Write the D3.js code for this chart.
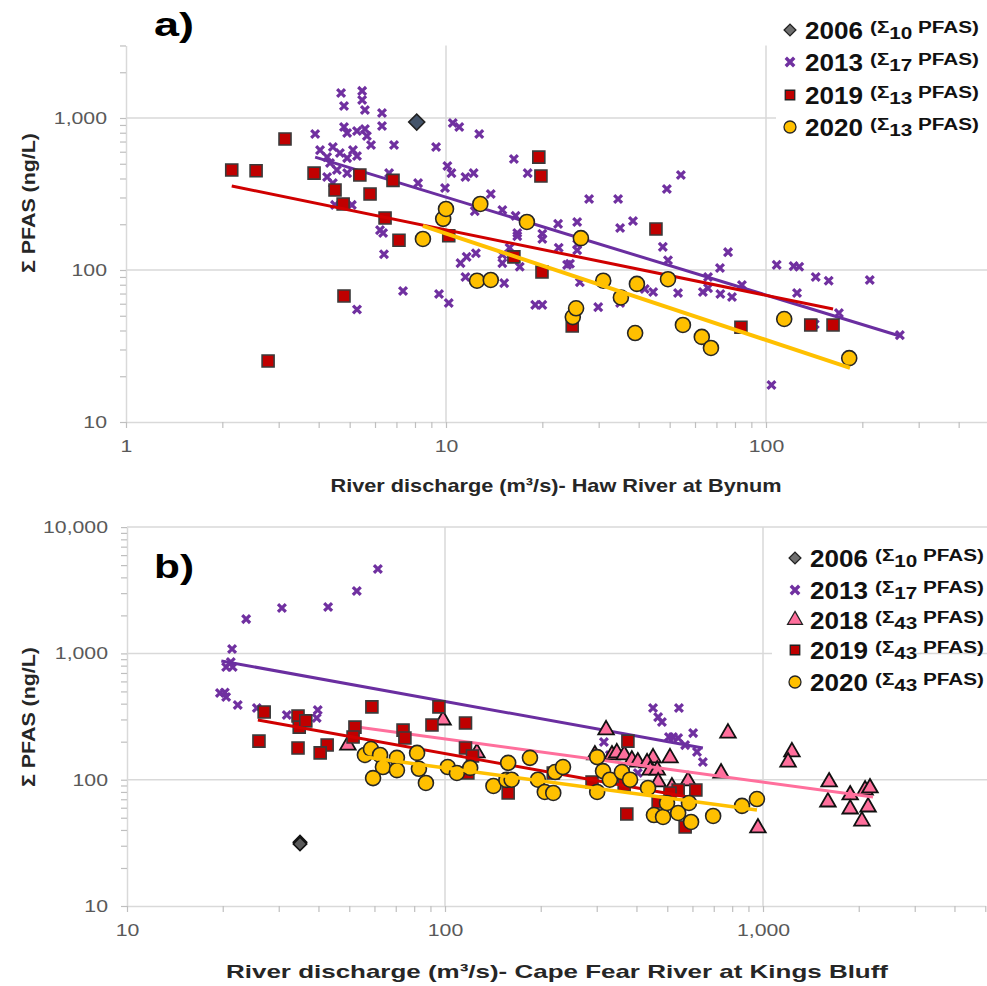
<!DOCTYPE html>
<html>
<head>
<meta charset="utf-8">
<script src="https://cdn.jsdelivr.net/npm/d3@7"></script>
<style>
  body { margin: 0; background: #fff; }
  text { font-family: Arial, "Liberation Sans", sans-serif; }
</style>
</head>
<body>
<script>
const svgWidth = 987
const svgHeight = 986

// ---- panel a) Haw River at Bynum : [discharge m3/s, sum PFAS ng/L]
const a2006 = [[8.1, 940]]
const a2013 = [
  [4.70,1459],[4.80,1200],[5.47,1507],[5.47,1313],[5.58,1129],[6.31,1078],[6.31,886],[3.90,785],
  [4.80,873],[4.91,796],[5.27,821],[5.58,847],[5.66,762],[5.83,664],[6.88,664],[9.31,644],
  [10.1,483],[4.04,615],[4.25,553],[4.43,644],[4.66,589],[5.12,615],[4.91,545],[5.27,562],
  [4.34,506],[4.56,455],[4.25,409],[4.91,434],[4.43,373],[6.64,434],[8.18,373],[9.93,346],
  [4.50,268],[5.08,268],[6.22,183],[10.5,927],[11.0,873],[12.7,785],[16.3,537],[18.0,434],
  [10.4,434],[11.5,409],[12.2,434],[13.8,316],[12.3,244],[15.0,248],[16.5,227],[28.0,293],
  [34.5,293],[49.0,341],[54.2,422],[22.4,201],[25.7,207],[38.4,210],[35.0,189],[16.7,175],
  [16.7,167],[15.8,140],[15.0,126],[15.0,111],[17.0,105],[15.2,82],[11.1,111],[11.6,122],
  [12.4,129],[11.5,90],[9.51,69.5],[10.2,60.7],[7.34,72.8],[20.0,173],[20.0,160],[22.5,140],
  [25.7,148],[25.7,135],[23.9,108],[24.4,110],[26.2,83],[19.0,59],[20.0,59],[29.9,57],
  [35.0,60.7],[47.6,142],[49.4,116],[44.4,71.6],[53.1,70.6],[41.8,75],[63.5,71.6],[65.9,76],
  [71.8,103],[76.1,131],[72,69.5],[78.3,66.4],[84.1,79.6],[6.36,175],[6.40,127],[5.27,55],
  [65.9,90],[108,108],[122,106],[127,105],[143,90],[157,85],[211,86],[125,70.6],
  [142,44],[169,52],[262,37.3],[104,17.5]
]
const a2019 = [
  [2.14,455],[2.55,450],[2.78,25.2],[3.14,728],[3.87,434],[4.5,336],[4.77,272],[4.8,67.5],
  [5.38,422],[5.79,316],[6.45,220],[6.83,389],[7.13,157],[10.2,168],[16.3,122],[19.5,553],
  [19.8,415],[19.95,97],[24.8,42.8],[45.3,186],[83.5,42],[138,43.5],[162,43.5]
]
const a2020 = [
  [8.47,160],[9.8,217],[10,252],[12.5,85],[12.8,272],[13.8,86],[17.9,207],[24.9,49],
  [25.5,56],[26.4,162],[31,85],[35.2,66],[39,38.5],[39.5,81],[49.4,87],[55,43.5],
  [63,36.3],[67.3,30.7],[114,47.6],[182,26.3]
]
const aTrend2013 = [[3.9, 553], [262, 36.8]]
const aTrend2019 = [[2.14, 357], [162, 55.4]]
const aTrend2020 = [[8.47, 195], [183, 22.7]]

// ---- panel b) Cape Fear River at Kings Bluff
const b2006 = [[35, 32], [35, 31]]
const b2013 = [
  [61.5,4660],[52.8,3120],[42.9,2330],[30.7,2290],[23.7,1870],[21.4,1084],[20.5,780],[21.5,780],
  [21.2,855],[19.6,486],[20.5,452],[20.3,490],[22.3,390],[25.6,370],[31.8,325],[39.8,356],
  [39.5,308],[451,370],[468,313],[481,286],[544,370],[521,218],[506,218],[603,234],
  [316,199],[541,214],[569,188],[620,166],[647,138],[404,113],[330,157]
]
const b2018 = [
  [98.6,297],[49.5,188],[321,248],[776,234],[1233,166],[1199,138],[1614,96],[1600,66.6],
  [1880,75.7],[1880,58.6],[2094,82.8],[2170,86],[2140,60.8],[2047,47],[964,41.5],[738,113],
  [581,97.7],[510,149],[451,149],[296,157],[335,157],[347,163],[366,157],[387,143],
  [404,138],[432,136],[442,119],[465,119],[468,96],[517,87.5],[126,163]
]
const b2019 = [
  [27.0,344],[26.0,202],[34.5,319],[34.8,261],[36.5,292],[58.9,377],[52.1,261],[51.4,218],
  [73.8,247],[74.8,214],[91.0,271],[95.7,377],[34.5,178],[42.6,188],[40.5,163],[116,281],
  [116,178],[122,154],[118,113],[158,78.5],[376,202],[363,111],[366,90.8],[373,53.5],
  [615,82.8],[541,82.8],[510,78.5],[468,66.6],[569,42.2],[290,96],[219,113]
]
const b2020 = [
  [56.0,157],[58.5,175],[62.5,157],[63.8,126],[70.6,149],[70.6,119],[59.4,103],[81.7,163],
  [82.8,122],[87.1,94.2],[102,126],[109,113],[120,124],[142,89.2],[158,136],[156,99.6],
  [162,100],[185,149],[196,100],[206,80],[219,78.5],[222,115],[235,126],[301,151],
  [301,80],[314,117],[330,100],[435,86],[454,52.5],[485,50.7],[499,65.4],[541,54.5],
  [585,65.4],[594,46.3],[697,51.6],[859,62],[957,70.3],[360,115],[382,100]
]
const bTrend2013 = [[19.8, 871], [647, 178]]
const bTrend2018 = [[50.2, 266], [2218, 73]]
const bTrend2019 = [[25.8, 297], [603, 71.6]]
const bTrend2020 = [[56, 151], [957, 57.5]]

const svg = d3.select("body").append("svg")
    .attr("width", svgWidth)
    .attr("height", svgHeight)

const purple = "#7030a0"
const red = "#c00000"
const gold = "#ffc000"
const pink = "#ff6f9c"

// all 1..9 x 10^n values inside [lo, hi]
function logTicks(lo, hi) {
  const out = []
  for (let p = Math.floor(Math.log10(lo)); p <= Math.ceil(Math.log10(hi)); p++) {
    for (let k = 1; k < 10; k++) {
      const v = k * Math.pow(10, p)
      if (v >= lo * 0.999 && v <= hi * 1.001) out.push(v)
    }
  }
  return out
}
const isMajor = v => Math.abs(Math.log10(v) - Math.round(Math.log10(v))) < 1e-9
const fmt = d3.format(",")

// the source figure's text is a bit wider than plain Arial
function stretch(sel, k) {
  sel.each(function () {
    const w = this.getComputedTextLength()
    if (w > 0) d3.select(this).attr("textLength", w * k).attr("lengthAdjust", "spacingAndGlyphs")
  })
}
function fitTo(sel, w) {
  sel.attr("textLength", w).attr("lengthAdjust", "spacingAndGlyphs")
}

function drawPanel(o) {
  const g = svg.append("g")
  const x = d3.scaleLog().domain(o.xDomain).range(o.xRange)
  const y = d3.scaleLog().domain(o.yDomain).range(o.yRange)
  const xTicks = logTicks(o.xDomain[0], o.xDomain[1])
  const yTicks = logTicks(o.yDomain[0], o.yDomain[1])

  // gridlines
  g.selectAll(".hgrid").data(yTicks.filter(v => isMajor(v) && v > o.yDomain[0]))
    .enter().append("line")
    .attr("x1", o.xRange[0]).attr("x2", svgWidth)
    .attr("y1", d => y(d)).attr("y2", d => y(d))
    .attr("stroke", "#d9d9d9").attr("stroke-width", 1.5)
  g.selectAll(".vgrid").data(xTicks.filter(v => isMajor(v) && v > o.xDomain[0]))
    .enter().append("line")
    .attr("x1", d => x(d)).attr("x2", d => x(d))
    .attr("y1", o.yRange[0]).attr("y2", o.yRange[1])
    .attr("stroke", "#d9d9d9").attr("stroke-width", 1.5)

  const yAxis = g.append("g")
    .attr("transform", `translate(${o.xRange[0]},0)`)
    .call(d3.axisLeft(y).tickValues(yTicks).tickSize(6).tickSizeOuter(0).tickPadding(13)
      .tickFormat(d => isMajor(d) ? fmt(d) : ""))
  const xAxis = g.append("g")
    .attr("transform", `translate(0,${o.yRange[0]})`)
    .call(d3.axisBottom(x).tickValues(xTicks).tickSize(6).tickSizeOuter(0).tickPadding(12)
      .tickFormat(d => isMajor(d) ? fmt(d) : ""))
  for (const ax of [yAxis, xAxis]) {
    ax.select(".domain").attr("stroke", "#d9d9d9").attr("stroke-width", 1.5)
    ax.selectAll(".tick line").attr("stroke", "#bfbfbf").attr("stroke-width", 1.2)
    ax.selectAll(".tick text").attr("fill", "#595959")
      .style("font-size", "17px").style("font-family", "Arial, 'Liberation Sans', sans-serif")
    stretch(ax.selectAll(".tick text"), 1.25)
  }

  // legend background
  g.append("rect")
    .attr("x", o.legendBox[0]).attr("y", o.legendBox[1])
    .attr("width", o.legendBox[2]).attr("height", o.legendBox[3])
    .attr("fill", "#fff")

  const line = d3.line().x(d => x(d[0])).y(d => y(d[1]))

  for (const s of o.series) {
    const pts = g.append("g")
    if (s.kind === "cross") {
      pts.selectAll("path").data(s.data).enter().append("path")
        .attr("d", d3.symbol(d3.symbolTimes, 42))
        .attr("transform", d => `translate(${x(d[0])},${y(d[1])})`)
        .attr("fill", "none").attr("stroke", s.color).attr("stroke-width", 3.2)
    } else if (s.kind === "circle") {
      pts.selectAll("circle").data(s.data).enter().append("circle")
        .attr("cx", d => x(d[0])).attr("cy", d => y(d[1])).attr("r", 7.5)
        .attr("fill", s.color).attr("stroke", "#262626").attr("stroke-width", 1.6)
    } else {
      const sym = s.kind === "triangle" ? d3.symbolTriangle : d3.symbolSquare
      pts.selectAll("path").data(s.data).enter().append("path")
        .attr("d", d3.symbol(sym, s.size))
        .attr("transform", d => `translate(${x(d[0])},${y(d[1])})` + (s.kind === "diamond" ? " rotate(45)" : ""))
        .attr("fill", s.color).attr("stroke", s.stroke).attr("stroke-width", s.kind === "triangle" ? 1.8 : 1.6)
    }
    if (s.trend) {
      g.append("path").datum(s.trend)
        .attr("d", line).attr("fill", "none")
        .attr("stroke", s.lineColor || s.color).attr("stroke-width", s.lineWidth || 3)
    }
  }

  // legend entries
  o.series.forEach((s, i) => {
    const cy = o.legendY[i]
    const lx = o.legendX
    if (s.kind === "cross") {
      g.append("path").attr("d", d3.symbol(d3.symbolTimes, 48))
        .attr("transform", `translate(${lx},${cy})`)
        .attr("fill", "none").attr("stroke", s.color).attr("stroke-width", 3.4)
    } else if (s.kind === "circle") {
      g.append("circle").attr("cx", lx).attr("cy", cy).attr("r", 6)
        .attr("fill", s.color).attr("stroke", "#262626").attr("stroke-width", 1.3)
    } else {
      const sym = s.kind === "triangle" ? d3.symbolTriangle : d3.symbolSquare
      const sz = s.kind === "triangle" ? 95 : (s.kind === "diamond" ? 70 : 90)
      g.append("path").attr("d", d3.symbol(sym, sz))
        .attr("transform", `translate(${lx},${cy})` + (s.kind === "diamond" ? " rotate(45)" : ""))
        .attr("fill", s.kind === "diamond" ? "#6e6e6e" : s.color).attr("stroke", "#222").attr("stroke-width", 1.3)
    }
    g.append("text").attr("x", lx + 15).attr("y", cy + 9)
      .attr("font-size", "23px").attr("font-weight", "bold").attr("fill", "#111")
      .text(s.year).call(fitTo, 58)
    const t = g.append("text").attr("x", lx + 80).attr("y", cy + 3)
      .attr("font-weight", "bold").attr("fill", "#111").attr("font-size", "16px")
    t.append("tspan").text("(Σ")
    t.append("tspan").attr("dy", 6).text(s.n)
    t.append("tspan").attr("dy", -6).text(" PFAS)")
    fitTo(t, 109)
  })

  // titles
  g.append("text").attr("x", o.labelPos[0]).attr("y", o.labelPos[1])
    .attr("font-size", "34px").attr("font-weight", "bold").attr("fill", "#000").text(o.label)
    .call(fitTo, 40)
  g.append("text").attr("x", o.xTitlePos[0]).attr("y", o.xTitlePos[1])
    .attr("text-anchor", "middle").attr("font-size", "19px").attr("font-weight", "bold").attr("fill", "#262626")
    .text(o.xTitle).call(fitTo, o.xTitleWidth)
  g.append("text")
    .attr("transform", `translate(${o.yTitlePos[0]},${o.yTitlePos[1]}) rotate(-90)`)
    .attr("text-anchor", "middle").attr("font-size", "19px").attr("font-weight", "bold").attr("fill", "#262626")
    .text("Σ PFAS (ng/L)").call(fitTo, 140)
}

drawPanel({
  xDomain: [1, 500], xRange: [126, 126 + 320 * Math.log10(500)],
  yDomain: [10, 3000], yRange: [422, 422 - 152 * Math.log10(300)],
  legendBox: [776, 10, 211, 135], legendX: 790, legendY: [30, 62, 95, 127],
  label: "a)", labelPos: [154, 36],
  xTitle: "River discharge (m³/s)- Haw River at Bynum", xTitlePos: [556, 492], xTitleWidth: 451,
  yTitlePos: [35, 203],
  series: [
    { year: "2006", n: "10", kind: "diamond", data: a2006, color: "#44546a", stroke: "#222", size: 128 },
    { year: "2013", n: "17", kind: "cross", data: a2013, color: purple, trend: aTrend2013, lineColor: "#6a2ea0" },
    { year: "2019", n: "13", kind: "square", data: a2019, color: red, stroke: "#3a3a3a", size: 144, trend: aTrend2019, lineColor: "#d00000" },
    { year: "2020", n: "13", kind: "circle", data: a2020, color: gold, trend: aTrend2020, lineWidth: 4 }
  ]
})

drawPanel({
  xDomain: [10, 5000], xRange: [127, 127 + 318 * Math.log10(500)],
  yDomain: [10, 10000], yRange: [906, 906 - 126.3 * 3],
  legendBox: [772, 540, 141, 155], legendX: 795, legendY: [558, 590, 620, 650, 682],
  label: "b)", labelPos: [154, 578],
  xTitle: "River discharge (m³/s)- Cape Fear River at Kings Bluff", xTitlePos: [557, 978], xTitleWidth: 662,
  yTitlePos: [35, 717],
  series: [
    { year: "2006", n: "10", kind: "diamond", data: b2006, color: "#595959", stroke: "#111", size: 90 },
    { year: "2013", n: "17", kind: "cross", data: b2013, color: purple, trend: bTrend2013, lineColor: "#6a2ea0" },
    { year: "2018", n: "43", kind: "triangle", data: b2018, color: pink, stroke: "#111", size: 105, trend: bTrend2018 },
    { year: "2019", n: "43", kind: "square", data: b2019, color: red, stroke: "#3a3a3a", size: 144, trend: bTrend2019, lineColor: "#d00000" },
    { year: "2020", n: "43", kind: "circle", data: b2020, color: gold, trend: bTrend2020, lineWidth: 3.5 }
  ]
})
</script>
</body>
</html>
